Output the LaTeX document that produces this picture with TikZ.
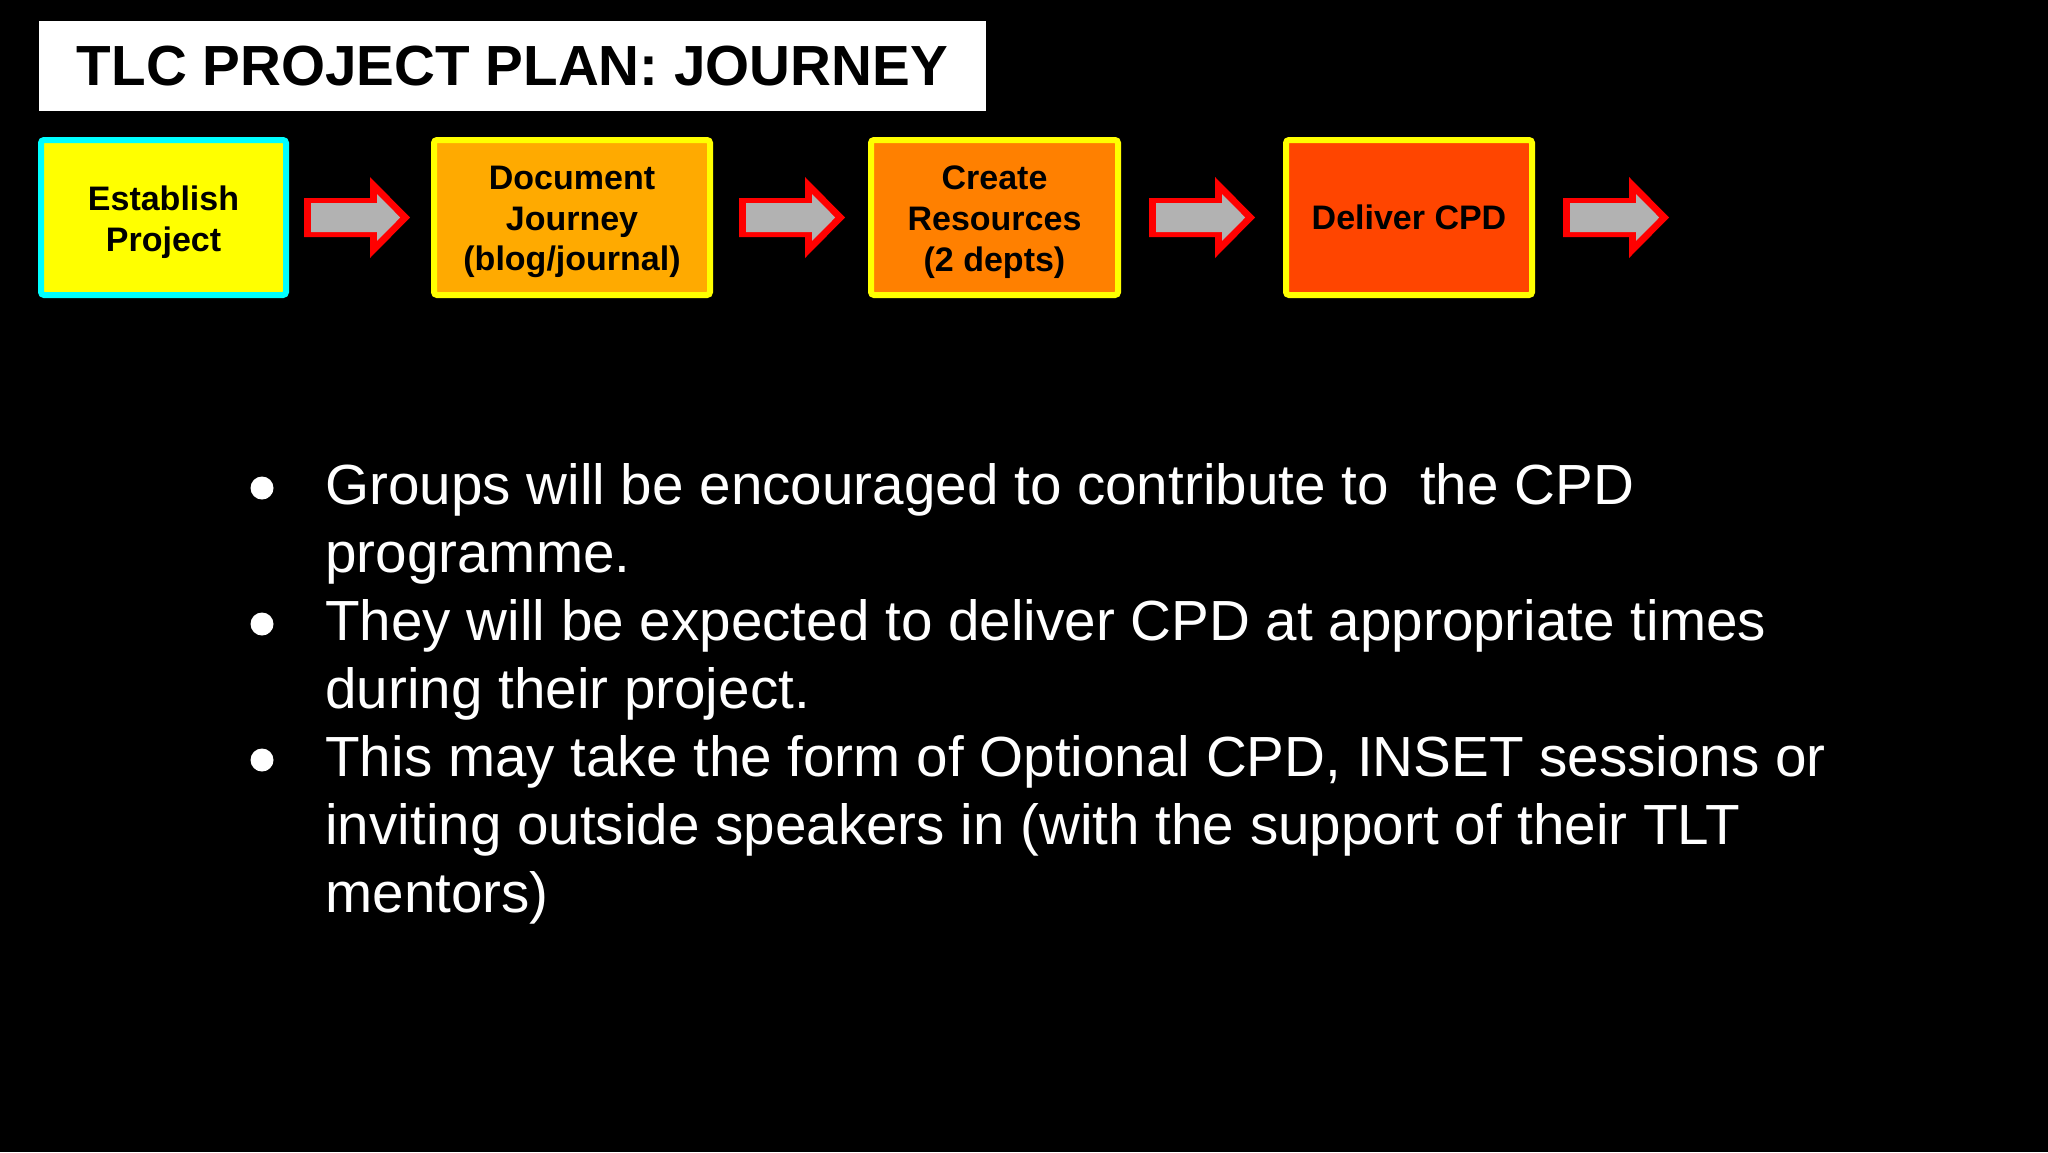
\documentclass[tikz,border=0pt]{standalone}
\usepackage{fontspec}
\setmainfont{Liberation Sans}
\definecolor{boxyellow}{RGB}{255,255,0}
\definecolor{boxcyan}{RGB}{0,255,255}
\definecolor{fillA}{RGB}{255,255,0}
\definecolor{fillB}{RGB}{255,170,0}
\definecolor{fillC}{RGB}{255,128,0}
\definecolor{fillD}{RGB}{255,69,0}
\definecolor{arrowgray}{RGB}{178,178,178}
\definecolor{arrowred}{RGB}{255,0,0}
\begin{document}
\begin{tikzpicture}[x=0.5pt,y=-0.5pt,
  stagebox/.style={draw=boxyellow, line width=3pt, rounded corners=1.5pt,
    inner sep=0pt, minimum height=77.5pt, align=center, text=black,
    font=\fontsize{17}{20.3}\selectfont\bfseries},
  stagetext/.style={inner sep=0pt, align=center, text=black,
    font=\fontsize{17}{20.3}\selectfont\bfseries},
  titlebox/.style={fill=white, inner sep=0pt, minimum width=473.5pt,
    minimum height=45pt, text=black, font=\fontsize{28.3}{34}\selectfont\bfseries},
  bullettext/.style={anchor=base west, inner sep=0pt, text=white,
    font=\fontsize{28.3}{34}\selectfont},
  bulletdot/.style={circle, fill=white, inner sep=0pt, minimum size=11.5pt},
  blockarrow/.pic={
    \fill[arrowred] (0,-19.5) -- (66,-19.5) -- (66,-40.5) -- (106,0)
      -- (66,40.5) -- (66,19.5) -- (0,19.5) -- cycle;
    \fill[arrowgray] (7,-14.5) -- (73,-14.5) -- (73,-23.4) -- (96.2,0)
      -- (73,23.4) -- (73,14.5) -- (7,14.5) -- cycle;
  }
]
\useasboundingbox (0,0) rectangle (2048,1152);
\fill[black] (0,0) rectangle (2048,1152);

% title
\node[titlebox] (title) at (512.5,66) {TLC PROJECT PLAN: JOURNEY};

% stage boxes
\node[stagebox, draw=boxcyan, fill=fillA, minimum width=122.5pt] (s1) at (163.5,217.5) {};
\node[stagetext] (t1) at ([yshift=-2.3pt]s1.center) {Establish\\Project};
\node[stagebox, fill=fillB, minimum width=138pt] (s2) at (572,217.5) {};
\node[stagetext] (t2) at ([yshift=-2.3pt]s2.center) {Document\\Journey\\(blog/journal)};
\node[stagebox, fill=fillC, minimum width=123.5pt] (s3) at (994.5,217.5) {};
\node[stagetext] (t3) at ([yshift=-2.3pt]s3.center) {Create\\Resources\\(2 depts)};
\node[stagebox, fill=fillD, minimum width=123pt] (s4) at (1409,217.5) {Deliver CPD};

% block arrows
\pic (a1) at (304,217.5) {blockarrow};
\pic (a2) at (739,217.5) {blockarrow};
\pic (a3) at (1149,217.5) {blockarrow};
\pic (a4) at (1563,217.5) {blockarrow};

% bullets
\node[bulletdot] (d1) at (262,488) {};
\node[bulletdot] (d2) at (262,624) {};
\node[bulletdot] (d3) at (262,760) {};

\node[bullettext] (l1) at (325,504) {Groups will be encouraged to contribute to~ the CPD};
\node[bullettext] (l2) at (325,572) {programme.};
\node[bullettext] (l3) at (325,640) {They will be expected to deliver CPD at appropriate times};
\node[bullettext] (l4) at (325,708) {during their project.};
\node[bullettext] (l5) at (325,776) {This may take the form of Optional CPD, INSET sessions or};
\node[bullettext] (l6) at (325,844) {inviting outside speakers in (with the support of their TLT};
\node[bullettext] (l7) at (325,912) {mentors)};
\end{tikzpicture}
\end{document}
